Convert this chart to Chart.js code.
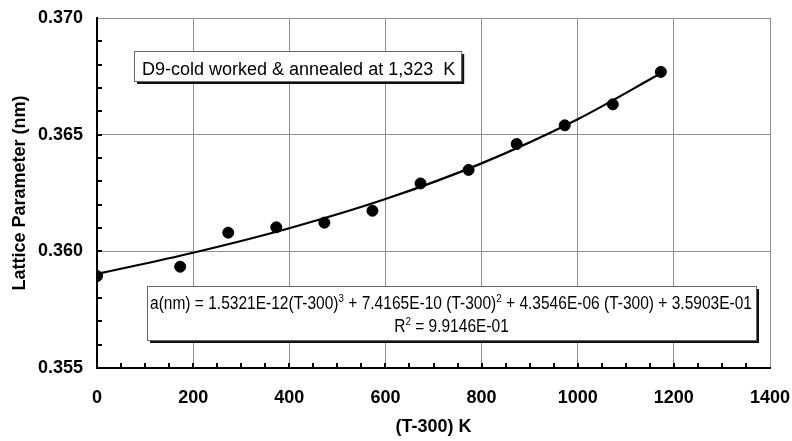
<!DOCTYPE html>
<html>
<head>
<meta charset="utf-8">
<script src="https://cdn.jsdelivr.net/npm/chart.js@4.4.1/dist/chart.umd.min.js"></script>
<style>
  html, body { margin: 0; padding: 0; background: #fff; }
  #wrap { width: 792px; height: 441px; position: relative; }
</style>
</head>
<body>
<div id="wrap"><canvas id="c" width="792" height="441"></canvas></div>
<script>
// ---- data ----
const tempOffset   = [0, 173, 273, 373, 473, 573, 673, 773, 873, 973, 1073, 1173];
const latticeParam = [0.35894, 0.35934, 0.36080, 0.36103, 0.36123, 0.36174, 0.36291, 0.36349, 0.36460, 0.36540, 0.36630, 0.36769];
const fitCurveX    = [0, 200, 400, 600, 800, 1000, 1173];
const fitCurveY    = [0.35903, 0.35994, 0.36099, 0.36224, 0.36377, 0.36566, 0.36763];
const xTickLabels  = ['0', '200', '400', '600', '800', '1000', '1200', '1400'];
const yTickLabels  = ['0.355', '0.360', '0.365', '0.370'];
const annotationText = 'D9-cold worked & annealed at 1,323  K';
const equationSegments = [
  ['a(nm) = 1.5321E-12(T-300)', false], ['3', true],
  [' + 7.4165E-10 (T-300)', false], ['2', true],
  [' + 4.3546E-06 (T-300) + 3.5903E-01', false]
];
const r2Segments = [['R', false], ['2', true], [' = 9.9146E-01', false]];

const FONT = 'Arial, "Liberation Sans", sans-serif';
const EQ_SIZE = 17.5, EQ_SUP = 11;

function drawRich(ctx, segs, x, y, size, supSize) {
  let cx = x;
  for (const [t, sup] of segs) {
    ctx.font = (sup ? supSize : size) + 'px ' + FONT;
    ctx.fillText(t, cx, sup ? y - size * 0.42 : y);
    cx += ctx.measureText(t).width;
  }
  return cx - x;
}
function richWidth(ctx, segs, size, supSize) {
  let w = 0;
  for (const [t, sup] of segs) {
    ctx.font = (sup ? supSize : size) + 'px ' + FONT;
    w += ctx.measureText(t).width;
  }
  return w;
}
function drawBox(ctx, x, y, w, h) {
  ctx.save();
  ctx.fillStyle = '#111';
  ctx.fillRect(x + 3, y + 3, w, h);
  ctx.fillStyle = '#fff';
  ctx.fillRect(x, y, w, h);
  ctx.strokeStyle = '#666';
  ctx.lineWidth = 1;
  ctx.strokeRect(x + 0.5, y + 0.5, w, h);
  ctx.restore();
}

const extrasPlugin = {
  id: 'extras',
  afterDraw(chart) {
    const ctx = chart.ctx;
    const xs = chart.scales.x, ys = chart.scales.y;
    const area = chart.chartArea;
    ctx.save();
    // minor tick marks (inside)
    ctx.strokeStyle = '#000';
    ctx.lineWidth = 2;
    ctx.beginPath();
    for (let v = 50; v < 1400; v += 50) {
      const px = Math.round(xs.getPixelForValue(v));
      ctx.moveTo(px, area.bottom);
      ctx.lineTo(px, area.bottom - 5);
    }
    for (let k = 1; k < 15; k++) {
      const py = Math.round(ys.getPixelForValue(0.355 + k * 0.001));
      ctx.moveTo(area.left, py);
      ctx.lineTo(area.left + 5, py);
    }
    ctx.stroke();

    // annotation box
    ctx.textBaseline = 'alphabetic';
    const bx = 134, by = 51;
    ctx.font = '18px ' + FONT;
    const tw = ctx.measureText(annotationText).width;
    drawBox(ctx, bx, by, tw + 14, 30);
    ctx.fillStyle = '#000';
    ctx.font = '18px ' + FONT;
    ctx.fillText(annotationText, bx + 8, by + 24);

    // equation box
    const ex = 147, ey = 286, ew = 609, eh = 54;
    drawBox(ctx, ex, ey, ew, eh);
    ctx.fillStyle = '#000';
    const w1 = richWidth(ctx, equationSegments, EQ_SIZE, EQ_SUP);
    const sx = 602 / w1;
    ctx.save();
    ctx.translate(ex + 3, 0);
    ctx.scale(sx, 1);
    drawRich(ctx, equationSegments, 0, ey + 23, EQ_SIZE, EQ_SUP);
    ctx.restore();
    const w2 = richWidth(ctx, r2Segments, EQ_SIZE, EQ_SUP) * sx;
    ctx.save();
    ctx.translate(ex + ew / 2 - w2 / 2, 0);
    ctx.scale(sx, 1);
    drawRich(ctx, r2Segments, 0, ey + 46, EQ_SIZE, EQ_SUP);
    ctx.restore();
    ctx.restore();
  }
};

const gridColor = '#8f8f8f';
const tickFont = { family: FONT, size: 18, weight: 'bold' };

new Chart(document.getElementById('c'), {
  type: 'scatter',
  data: {
    datasets: [
      {
        label: 'fit',
        data: fitCurveX.map((x, i) => ({ x, y: fitCurveY[i] })),
        showLine: true,
        borderColor: '#000',
        borderWidth: 2.2,
        pointRadius: 0,
        cubicInterpolationMode: 'monotone',
        order: 2
      },
      {
        label: 'data',
        data: tempOffset.map((x, i) => ({ x, y: latticeParam[i] })),
        backgroundColor: '#000',
        borderColor: '#000',
        pointRadius: 5.5,
        pointHoverRadius: 5.5,
        order: 1
      }
    ]
  },
  options: {
    responsive: false,
    animation: false,
    devicePixelRatio: 1,
    layout: { padding: { left: 0, right: 22, top: 18, bottom: 0 } },
    plugins: { legend: { display: false }, tooltip: { enabled: false } },
    scales: {
      x: {
        type: 'linear',
        min: 0, max: 1400,
        afterBuildTicks(scale) {
          scale.ticks = xTickLabels.map(l => ({ value: Number(l) }));
        },
        afterFit(scale) {
          scale.height = 73;
          scale.paddingLeft = 0; scale.paddingRight = 0;
        },
        ticks: {
          padding: 19,
          color: '#000',
          font: tickFont,
          maxRotation: 0,
          callback: (v, i) => xTickLabels[i]
        },
        grid: { color: gridColor, lineWidth: 1, drawTicks: false },
        border: { color: '#000', width: 2 },
        title: {
          display: true, text: '(T-300) K', color: '#000',
          font: tickFont,
          padding: { top: 0, bottom: 3 }
        }
      },
      y: {
        type: 'linear',
        min: 0.355, max: 0.370,
        afterBuildTicks(scale) {
          scale.ticks = yTickLabels.map(l => ({ value: Number(l) }));
        },
        afterFit(scale) {
          scale.width = 97;
          scale.paddingTop = 0; scale.paddingBottom = 0;
        },
        ticks: {
          padding: 14,
          color: '#000',
          font: tickFont,
          callback: (v, i) => yTickLabels[i]
        },
        grid: { color: gridColor, lineWidth: 1, drawTicks: false },
        border: { color: '#000', width: 2 },
        title: {
          display: true, text: 'Lattice Parameter (nm)', color: '#000',
          font: tickFont,
          padding: { top: 9, bottom: 0 }
        }
      }
    }
  },
  plugins: [extrasPlugin]
});
</script>
</body>
</html>
